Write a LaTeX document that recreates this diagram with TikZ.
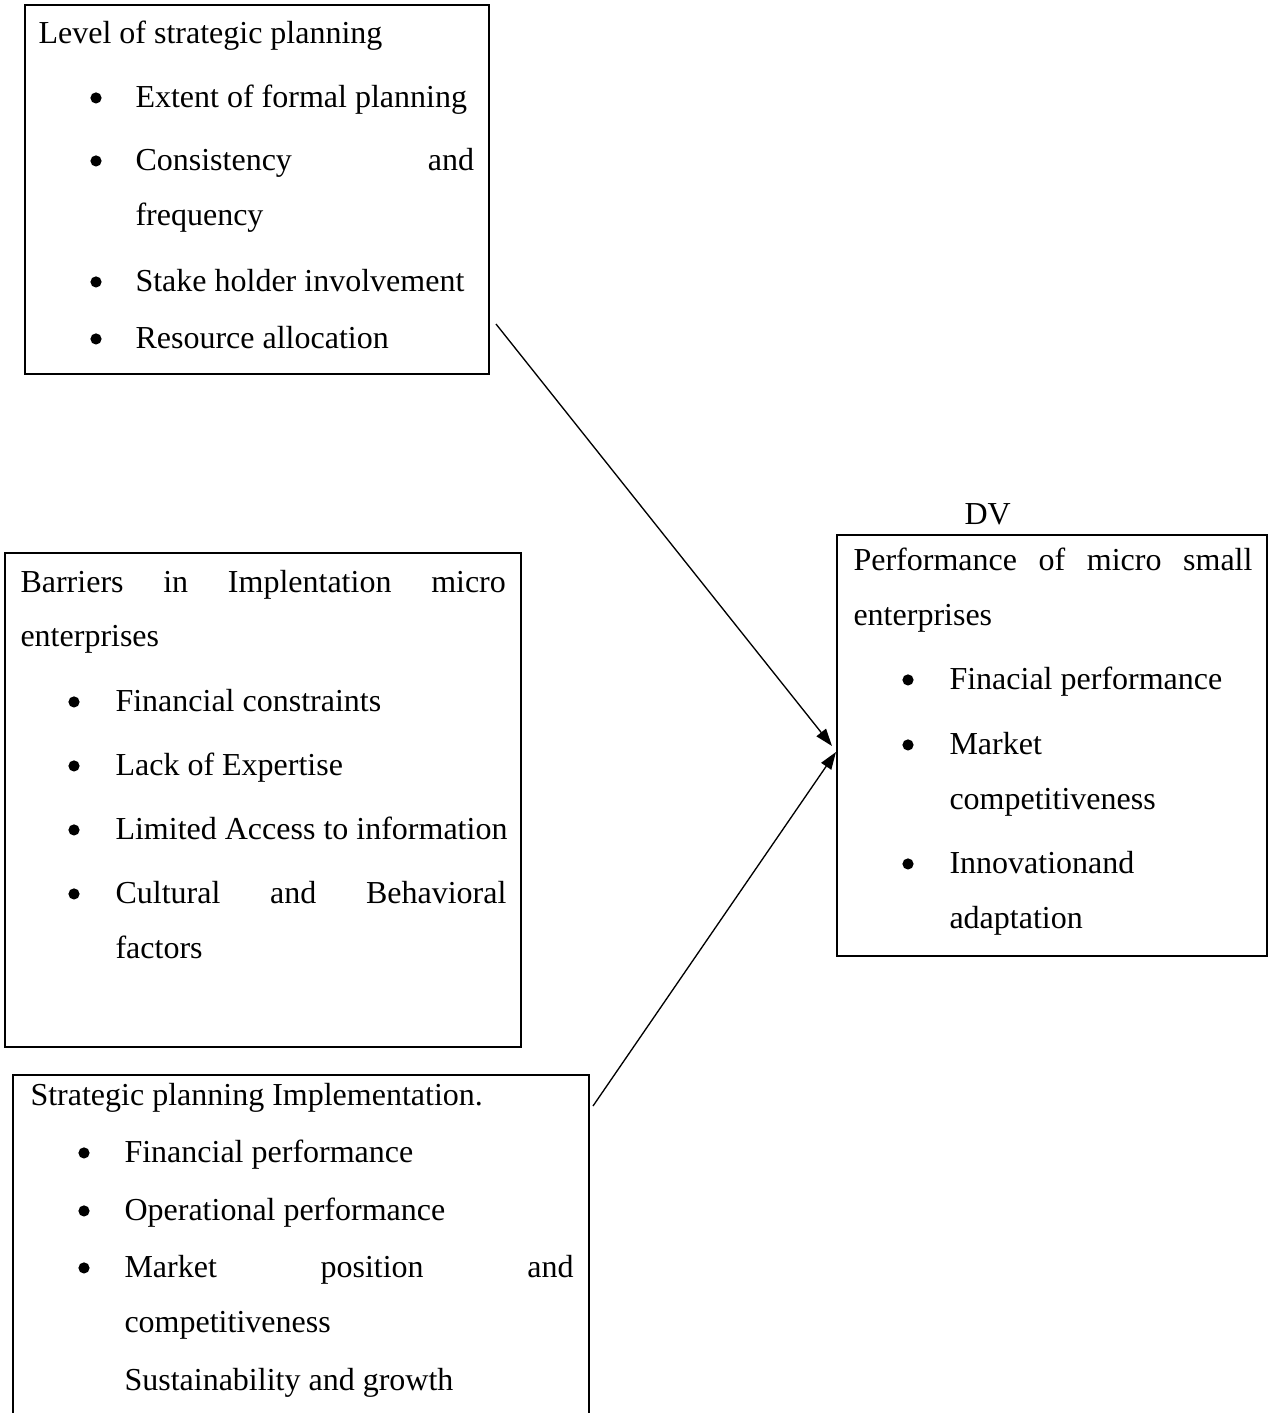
\documentclass[tikz,border=0pt]{standalone}
\usepackage{fontspec}
\setmainfont{Liberation Serif}
\usetikzlibrary{arrows.meta,fit}

\begin{document}
\begin{tikzpicture}[x=0.375pt,y=-0.375pt,
	box/.style={draw,line width=0.75pt,inner sep=0pt},
	txt/.style={anchor=base west,inner sep=0pt,font=\fontsize{12pt}{14pt}\selectfont},
	dot/.style={circle,fill,inner sep=0pt,minimum size=4.2pt,yshift=3.4pt},
	link/.style={line width=0.5pt,-{Triangle[length=6.5pt,width=4.5pt]}}]
	\useasboundingbox (0,0) rectangle (1273,1413);
	%Level of strategic planning
		\node[box,fit={(25,5) (489,374)}] (lsp) {};
		\node[txt] (lsp0) at (38,43) {Level of strategic planning};
		\node[dot] (lspb1) at (96,107) {};
		\node[txt] (lsp1) at (135,107) {Extent of formal planning};
		\node[dot] (lspb2) at (96,170) {};
		\node[txt] (lsp2) at (135,170) {\makebox[127pt][s]{Consistency and}};
		\node[txt] (lsp2b) at (135,225) {frequency};
		\node[dot] (lspb3) at (96,291) {};
		\node[txt] (lsp3) at (135,291) {Stake holder involvement};
		\node[dot] (lspb4) at (96,348) {};
		\node[txt] (lsp4) at (135,348) {Resource allocation};
	%Barriers
		\node[box,fit={(5,553) (521,1047)}] (bar) {};
		\node[txt] (bar0) at (20,592) {\makebox[182pt][s]{Barriers in Implentation micro}};
		\node[txt] (bar0b) at (20,646) {enterprises};
		\node[dot] (barb1) at (74,711) {};
		\node[txt] (bar1) at (115,711) {Financial constraints};
		\node[dot] (barb2) at (74,775) {};
		\node[txt] (bar2) at (115,775) {Lack of Expertise};
		\node[dot] (barb3) at (74,839) {};
		\node[txt] (bar3) at (115,839) {Limited Access to information};
		\node[dot] (barb4) at (74,903) {};
		\node[txt] (bar4) at (115,903) {\makebox[146.6pt][s]{Cultural and Behavioral}};
		\node[txt] (bar4b) at (115,958) {factors};
	%Strategic planning implementation
		\node[box,fit={(13,1075) (589,1425)}] (spi) {};
		\node[txt] (spi0) at (30,1105) {Strategic planning Implementation.};
		\node[dot] (spib1) at (84,1162) {};
		\node[txt] (spi1) at (124,1162) {Financial performance};
		\node[dot] (spib2) at (84,1220) {};
		\node[txt] (spi2) at (124,1220) {Operational performance};
		\node[dot] (spib3) at (84,1277) {};
		\node[txt] (spi3) at (124,1277) {\makebox[168.4pt][s]{Market position and}};
		\node[txt] (spi3b) at (124,1332) {competitiveness};
		\node[txt] (spi4) at (124,1390) {Sustainability and growth};
	%DV
		\node[txt] (dvlab) at (964,524) {DV};
		\node[box,fit={(837,535) (1267,956)}] (dv) {};
		\node[txt] (dv0) at (853,570) {\makebox[149.6pt][s]{Performance of micro small}};
		\node[txt] (dv0b) at (853,625) {enterprises};
		\node[dot] (dvb1) at (908,689) {};
		\node[txt] (dv1) at (949,689) {Finacial performance};
		\node[dot] (dvb2) at (908,754) {};
		\node[txt] (dv2) at (949,754) {Market};
		\node[txt] (dv2b) at (949,809) {competitiveness};
		\node[dot] (dvb3) at (908,873) {};
		\node[txt] (dv3) at (949,873) {Innovationand};
		\node[txt] (dv3b) at (949,928) {adaptation};
	%Arrows to DV
		\draw[link] ([shift={(6,-51)}]lsp.south east) -- ([shift={(-4,212)}]dv.north west);
		\draw[link] ([shift={(3,32)}]spi.north east) -- ([shift={(0,218)}]dv.north west);
\end{tikzpicture}
\end{document}
